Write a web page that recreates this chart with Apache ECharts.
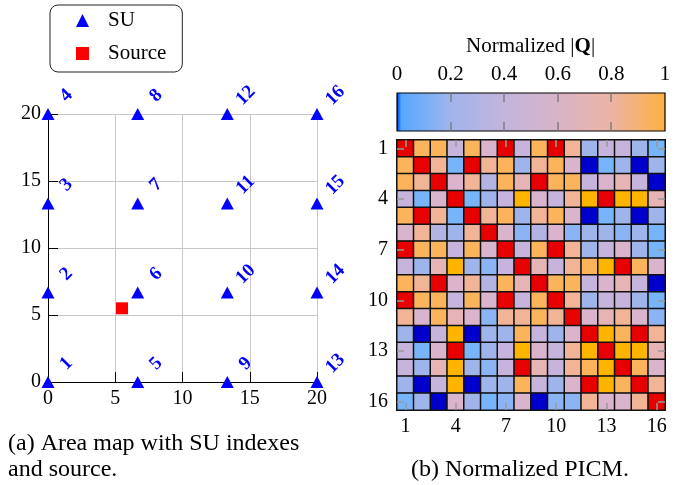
<!DOCTYPE html>
<html><head><meta charset="utf-8">
<script src="https://cdn.jsdelivr.net/npm/echarts@6/dist/echarts.min.js"></script>
<style>html,body{margin:0;padding:0;background:#fff}#c{width:683px;height:485px}</style>
</head><body><div id="c"></div>
<script>
// ---- Data ----
const suIndex = [1,2,3,4,5,6,7,8,9,10,11,12,13,14,15,16];
const suX = [0,0,0,0,6.67,6.67,6.67,6.67,13.33,13.33,13.33,13.33,20,20,20,20];
const suY = [0,6.67,13.33,20,0,6.67,13.33,20,0,6.67,13.33,20,0,6.67,13.33,20];
const sourceX = [5.5];
const sourceY = [5.5];
const mapTicks = [0,5,10,15,20];
const picmLabels = ['1','2','3','4','5','6','7','8','9','10','11','12','13','14','15','16'];
const colorbarTicks = [0,0.2,0.4,0.6,0.8,1];
// normalized |Q|
const row1  = [1,.9,.9,.44,.9,.56,1,.44,.9,1,.78,.24,.44,.44,.24,.08];
const row2  = [.9,1,.78,.08,1,.78,.9,.24,.78,.9,.56,0,.08,.24,0,.24];
const row3  = [.9,.78,1,.56,.78,.33,.9,.67,1,.9,.9,.44,.56,.67,.44,0];
const row4  = [.44,.08,.56,1,.08,.24,.44,.96,.56,.44,.78,.96,1,.96,.96,.67];
const row5  = [.9,1,.78,.08,1,.78,.9,.24,.78,.9,.56,0,.08,.24,0,.24];
const row6  = [.56,.78,.33,.24,.78,1,.56,.15,.33,.56,.15,.24,.24,.15,.24,.08];
const row7  = [1,.9,.9,.44,.9,.56,1,.44,.9,1,.78,.24,.44,.56,.24,.08];
const row8  = [.44,.24,.67,.96,.24,.15,.44,1,.67,.44,.78,.9,.96,1,.9,.56];
const row9  = [.9,.78,1,.56,.78,.33,.9,.67,1,.9,.9,.44,.56,.67,.44,0];
const row10 = [1,.9,.9,.44,.9,.56,1,.44,.9,1,.78,.24,.44,.44,.24,.08];
const row11 = [.78,.56,.9,.67,.56,.15,.78,.78,.9,.78,1,.56,.67,.78,.56,.15];
const row12 = [.24,0,.44,.96,0,.24,.24,.9,.44,.24,.56,1,.96,.9,1,.78];
const row13 = [.44,.08,.56,1,.08,.24,.44,.96,.56,.44,.78,.96,1,.96,.96,.67];
const row14 = [.44,.24,.67,.96,.24,.15,.44,1,.67,.44,.78,.9,.96,1,.9,.56];
const row15 = [.24,0,.44,.96,0,.24,.24,.9,.44,.24,.56,1,.96,.9,1,.78];
const row16 = [.08,.24,0,.56,.24,.08,.15,.56,0,.15,.15,.78,.56,.56,.78,1];
const picm = [row1,row2,row3,row4,row5,row6,row7,row8,row9,row10,row11,row12,row13,row14,row15,row16];

// ---- build ----
const serif = "'Liberation Serif', 'Times New Roman', serif";
const suData = suIndex.map((k,i)=>({value:[suX[i],suY[i]], name:String(k)}));
const heat = [];
picm.forEach((r,i)=>r.forEach((v,j)=>heat.push([j,i,v])));

const levelColors = [
  [0,0.04,'#0000cc'],[0.04,0.11,'#78b4fa'],[0.11,0.2,'#8cb4f4'],[0.2,0.28,'#a0b4ec'],
  [0.28,0.38,'#b4b4e4'],[0.38,0.5,'#c6b4dc'],[0.5,0.62,'#dab4cc'],[0.62,0.72,'#e6b4b4'],
  [0.72,0.85,'#f2b496'],[0.85,0.93,'#fcb45c'],[0.93,0.98,'#ffb400'],[0.98,1.01,'#e60000']
];
const txt = (size)=>({fontFamily:serif,fontWeight:'normal',fontSize:size,color:'#000'});
const catTick = {show:true,inside:true,alignWithLabel:true,interval:2,length:7,lineStyle:{color:'#999',width:1.5}};

const chart = echarts.init(document.getElementById('c'), null, {renderer:'canvas'});
chart.setOption({
  animation:false,
  textStyle:{fontFamily:serif},
  title:[
    {text:'(a) Area map with SU indexes', left:8, top:432, padding:0, textStyle:txt(24)},
    {text:'and source.', left:8, top:458, padding:0, textStyle:txt(24)},
    {text:'(b) Normalized PICM.', left:411, top:458, padding:0, textStyle:txt(24)},
    {text:'Normalized |{b|Q}|', left:461, top:31,
     textStyle:Object.assign(txt(21),{rich:{b:{fontFamily:serif,fontWeight:'bold',fontSize:21,color:'#000'}}})}
  ],
  legend:{
    left:50, top:5, orient:'vertical', data:['SU','Source'],
    borderColor:'#222', borderWidth:1, borderRadius:8,
    padding:[5,16,8,26], itemGap:12, itemWidth:13, itemHeight:13,
    textStyle:{fontFamily:serif,fontSize:21,color:'#000',padding:[0,0,0,14]}
  },
  grid:[
    {left:48, right:366, top:114, bottom:103},
    {left:397, right:18, top:140, bottom:75},
    {left:397, right:18, top:93, height:38}
  ],
  xAxis:[
    {gridIndex:0, type:'value', min:0, max:20, interval:5,
     axisLine:{show:true,onZero:false,lineStyle:{color:'#000',width:1}},
     axisTick:{show:true,inside:true,length:10,lineStyle:{color:'#000'}},
     axisLabel:{fontFamily:serif,fontSize:20,color:'#000',margin:7},
     splitLine:{show:true,lineStyle:{color:'#c8c8c8',width:1}}},
    {gridIndex:1, type:'category', data:picmLabels, position:'bottom', z:10,
     axisLine:{show:false}, axisTick:catTick,
     axisLabel:{interval:2,fontFamily:serif,fontSize:20,color:'#000',margin:7},
     splitLine:{show:false}},
    {gridIndex:1, type:'category', data:picmLabels, position:'top', z:10,
     axisLine:{show:false}, axisTick:catTick, axisLabel:{show:false}},
    {gridIndex:2, type:'value', min:0, max:1, interval:0.2, position:'top',
     axisLine:{show:false,onZero:false}, axisTick:{show:false},
     axisLabel:{fontFamily:serif,fontSize:21,color:'#000',margin:8,formatter:v=>String(+v.toFixed(1))},
     splitLine:{show:false}}
  ],
  yAxis:[
    {gridIndex:0, type:'value', min:0, max:20, interval:5,
     axisLine:{show:true,onZero:false,lineStyle:{color:'#000',width:1}},
     axisTick:{show:true,inside:true,length:10,lineStyle:{color:'#000'}},
     axisLabel:{fontFamily:serif,fontSize:20,color:'#000',margin:7},
     splitLine:{show:true,lineStyle:{color:'#c8c8c8',width:1}}},
    {gridIndex:1, type:'category', data:picmLabels, inverse:true, position:'left', z:10,
     axisLine:{show:false}, axisTick:catTick,
     axisLabel:{interval:2,fontFamily:serif,fontSize:20,color:'#000',margin:9},
     splitLine:{show:false}},
    {gridIndex:1, type:'category', data:picmLabels, inverse:true, position:'right', z:10,
     axisLine:{show:false}, axisTick:catTick, axisLabel:{show:false}},
    {gridIndex:2, type:'value', min:0, max:1, show:false}
  ],
  visualMap:{
    type:'piecewise', show:false, seriesIndex:2, dimension:2,
    pieces: levelColors.map(p=>({gte:p[0], lt:p[1], color:p[2]}))
  },
  series:[
    {name:'SU', type:'scatter', xAxisIndex:0, yAxisIndex:0, data:suData,
     symbol:'triangle', symbolSize:[13,12], itemStyle:{color:'#0000ff',opacity:1}, z:5,
     label:{show:true, formatter:p=>p.name, position:'inside', rotate:45,
       offset:[26,0], color:'#0000ff', fontFamily:serif, fontWeight:'bold', fontSize:19}},
    {name:'Source', type:'scatter', xAxisIndex:0, yAxisIndex:0,
     data:sourceX.map((x,i)=>[x,sourceY[i]]),
     symbol:'rect', symbolSize:12, itemStyle:{color:'#ff0000',opacity:1}, z:5},
    {name:'PICM', type:'heatmap', xAxisIndex:1, yAxisIndex:1, data:heat,
     itemStyle:{borderColor:'#111', borderWidth:1.5}, z:2},
    {name:'colorbar', type:'custom', xAxisIndex:3, yAxisIndex:3, data:[[0,1]], z:1, silent:true,
     clip:false,
     renderItem:(params, api)=>{
       const a = api.coord([0,0]); const b = api.coord([1,1]);
       const children = [{type:'rect', z2:1, shape:{x:a[0], y:b[1], width:b[0]-a[0], height:a[1]-b[1]},
         style:{stroke:'#000', lineWidth:1.2,
           fill:new echarts.graphic.LinearGradient(0,0,1,0,[
             {offset:0,color:'#0000ee'},{offset:0.008,color:'#1060ff'},{offset:0.018,color:'#55a8ff'},
             {offset:0.2,color:'#a0b4ec'},{offset:0.4,color:'#c4b4dc'},{offset:0.6,color:'#d8b4c8'},
             {offset:0.8,color:'#ecb4a4'},{offset:1,color:'#ffb040'}])}}];
       colorbarTicks.slice(1,-1).forEach(t=>{
         const x = Math.round(api.coord([t,0])[0]);
         children.push({type:'rect', z2:5, shape:{x:x-0.7,y:b[1],width:1.4,height:9},style:{fill:'#7a7a7a'}});
         children.push({type:'rect', z2:5, shape:{x:x-0.7,y:a[1]-9,width:1.4,height:9},style:{fill:'#7a7a7a'}});
       });
       return {type:'group', children};
     }}
  ]
});
</script></body></html>
